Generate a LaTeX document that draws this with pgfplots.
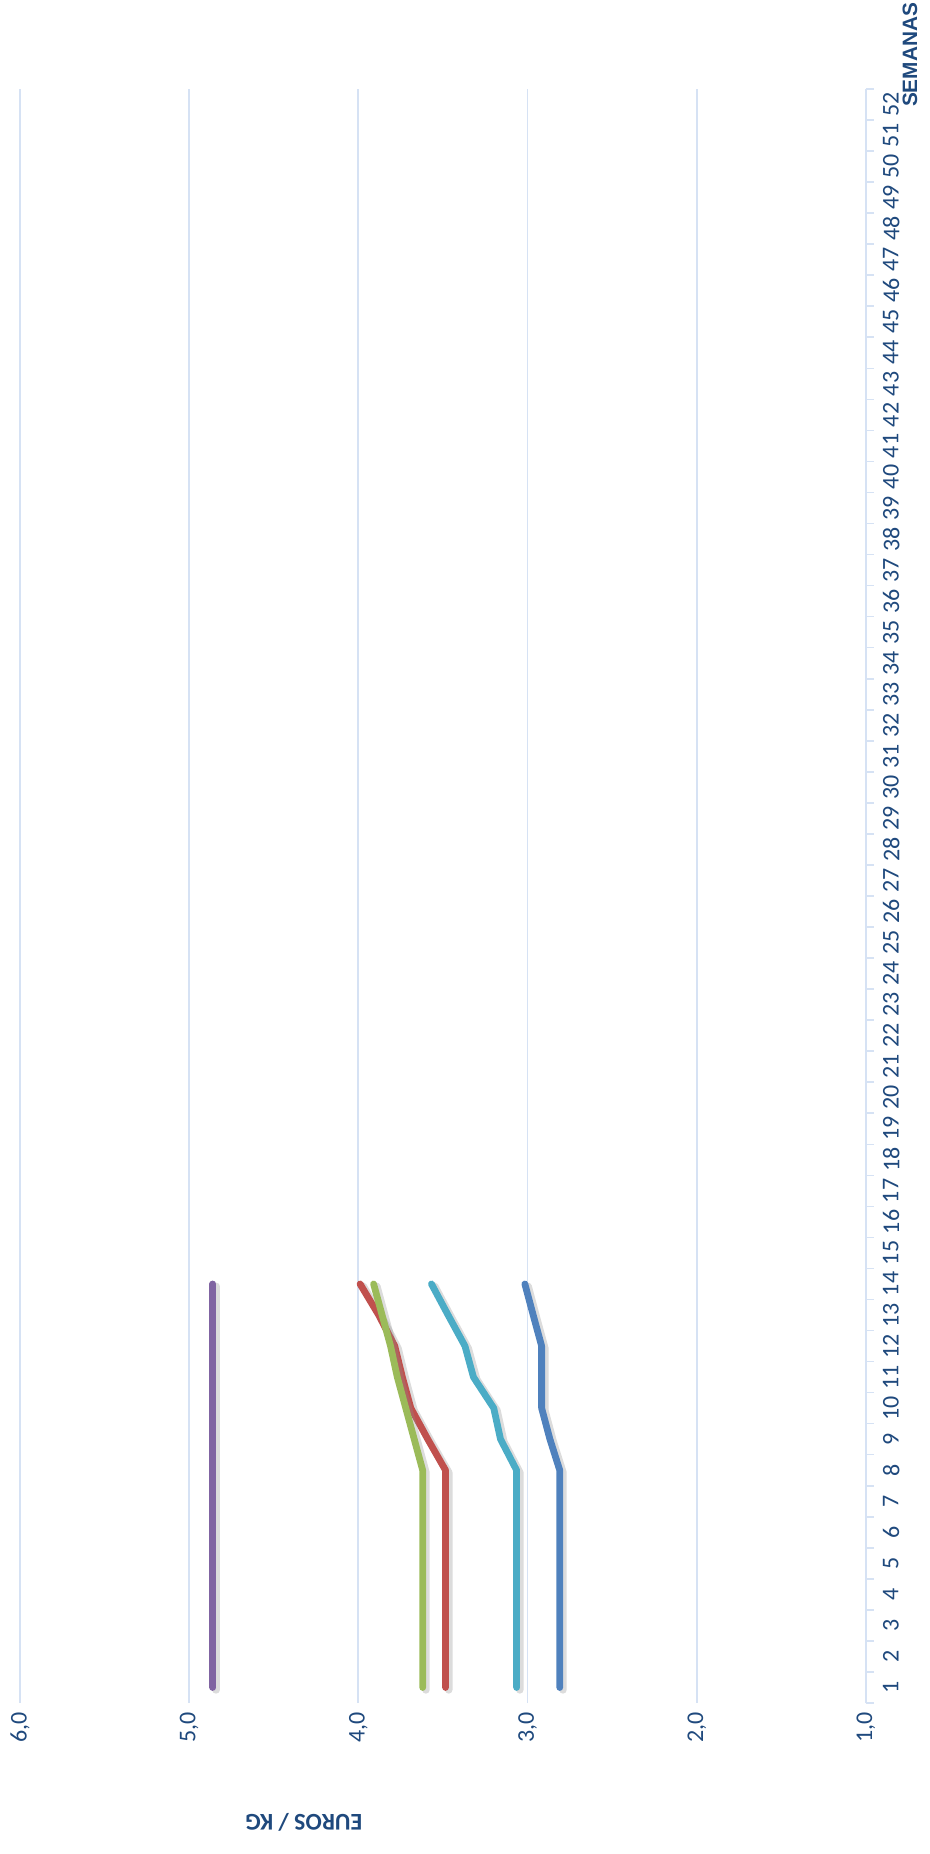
\documentclass[border=0pt]{standalone}
\usepackage{fontspec}
\setmainfont{Carlito}
\newfontfamily\arialbold{Liberation Sans}[BoldFont={* Bold}]
\usepackage{pgfplots}
\pgfplotsset{compat=1.18}
\definecolor{cpurple}{HTML}{8064A2}
\definecolor{cred}{HTML}{C0504D}
\definecolor{cgreen}{HTML}{9BBB59}
\definecolor{ccyan}{HTML}{4BACC6}
\definecolor{cblue}{HTML}{4F81BD}
\definecolor{ctext}{HTML}{1F497D}
\definecolor{cgrid}{HTML}{D6E2F4}
\pgfplotsset{
  serie/.style={line width=3.4bp, line cap=round, line join=round, no marks,
    preaction={draw=black!45, opacity=0.3, line width=3.8bp,
      transform canvas={shift={(1.6bp,-1.2bp)}}}},
}
\begin{document}
\begin{tikzpicture}
\path[use as bounding box] (0,0) rectangle (465bp,927bp);
\begin{axis}[
  at={(10bp,75.5bp)}, anchor=south west,
  width=423bp, height=807bp, scale only axis,
  x dir=reverse,
  xmin=1, xmax=6, ymin=0.5, ymax=52.5,
  xtick={1,2,3,4,5,6},
  xticklabels={{1,0},{2,0},{3,0},{4,0},{5,0},{6,0}},
  xmajorgrids, major grid style={cgrid, line width=0.9bp},
  ytick={1,...,52},
  yticklabel pos=right,
  ytick pos=right,
  minor ytick={0.5,1.5,...,52.5},
  major tick length=0pt,
  minor tick length=4bp,
  tick align=outside,
  minor tick style={cgrid, line width=0.8bp},
  xtick pos=bottom,
  axis line style={draw=none},
  /pgf/number format/assume math mode=true,
  xticklabel style={rotate=90, anchor=east, font=\fontsize{12bp}{14bp}\selectfont, text=ctext},
  xticklabel shift=1bp,
  yticklabel style={rotate=90, anchor=north, font=\fontsize{12bp}{14bp}\selectfont, text=ctext},
  yticklabel shift=5bp,
  clip=false,
]
\draw[cgrid, line width=0.9bp] (axis cs:1,0.5) -- (axis cs:1,52.5);
\addplot[serie, cpurple] coordinates {
 (4.86,1) (4.86,2) (4.86,3) (4.86,4) (4.86,5) (4.86,6) (4.86,7)
 (4.86,8) (4.86,9) (4.86,10) (4.86,11) (4.86,12) (4.86,13) (4.86,14)};
\addplot[serie, cred] coordinates {
 (3.485,1) (3.485,2) (3.485,3) (3.485,4) (3.485,5) (3.485,6) (3.485,7)
 (3.485,8) (3.59,9) (3.69,10) (3.74,11) (3.785,12) (3.88,13) (3.99,14)};
\addplot[serie, cgreen] coordinates {
 (3.62,1) (3.62,2) (3.62,3) (3.62,4) (3.62,5) (3.62,6) (3.62,7)
 (3.62,8) (3.67,9) (3.72,10) (3.77,11) (3.81,12) (3.86,13) (3.91,14)};
\addplot[serie, ccyan] coordinates {
 (3.065,1) (3.065,2) (3.065,3) (3.065,4) (3.065,5) (3.065,6) (3.065,7)
 (3.065,8) (3.16,9) (3.20,10) (3.32,11) (3.37,12) (3.47,13) (3.568,14)};
\addplot[serie, cblue] coordinates {
 (2.81,1) (2.81,2) (2.81,3) (2.81,4) (2.81,5) (2.81,6) (2.81,7)
 (2.81,8) (2.868,9) (2.917,10) (2.917,11) (2.917,12) (2.967,13) (3.016,14)};
\end{axis}
\node[rotate=90, text=ctext, font=\arialbold\bfseries\fontsize{10.4bp}{12bp}\selectfont] at (455bp,899.5bp) {SEMANAS};
\node[rotate=180, text=ctext, font=\bfseries\fontsize{12bp}{14bp}\selectfont] at (152bp,16bp) {EUROS / KG};
\end{tikzpicture}
\end{document}
